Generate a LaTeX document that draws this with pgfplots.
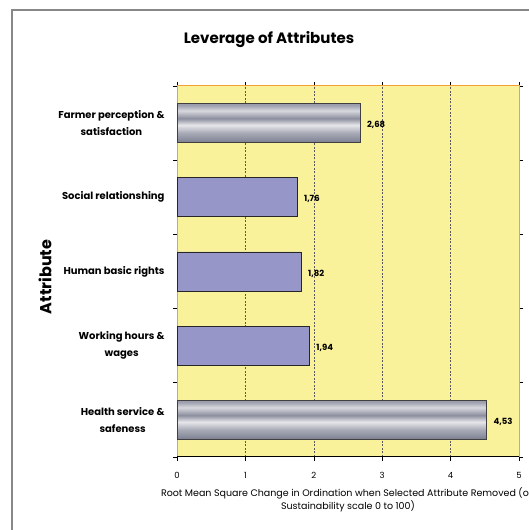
\documentclass[border=0pt]{standalone}
\usepackage{fontspec}
\setmainfont{Poppins}
\usepackage{pgfplots}
\pgfplotsset{compat=1.18}
\definecolor{bgyellow}{HTML}{FAF29B}
\definecolor{plotorange}{HTML}{F5A032}
\definecolor{barpurple}{HTML}{9696C8}
\definecolor{framegray}{HTML}{888888}
\definecolor{ma}{HTML}{7A7D8E}
\definecolor{mb}{HTML}{8A8D9D}
\definecolor{mc}{HTML}{A8AAB6}
\definecolor{md}{HTML}{E6E6EA}
\definecolor{me}{HTML}{8C8E9E}
\definecolor{mf}{HTML}{D8D8DE}
\definecolor{mg}{HTML}{A0A2B0}
\definecolor{mh}{HTML}{9A9CAB}
\pgfdeclareverticalshading{metal}{100bp}{color(0bp)=(ma); color(25bp)=(ma); color(29bp)=(mb); color(37.5bp)=(mc); color(47.5bp)=(md); color(56bp)=(me); color(66bp)=(mf); color(72.5bp)=(mg); color(75bp)=(mh); color(100bp)=(mh)}
\begin{document}
\begin{tikzpicture}[x=1bp,y=1bp]
\useasboundingbox (0,0) rectangle (529,530);
\draw[framegray, line width=1.2bp] (12,-10) -- (12,520) -- (545,520);
\begin{axis}[
  at={(177bp,73bp)}, anchor=south west,
  width=342bp, height=371bp, scale only axis,
  xmin=0, xmax=5, ymin=0.5, ymax=5.5,
  xtick={0,1,2,3,4,5},
  ytick={0.5,1.5,2.5,3.5,4.5,5.5}, yticklabels={},
  extra y ticks={1,2,3,4,5},
  extra y tick labels={{Health service \&\\safeness},{Working hours \&\\wages},{Human basic rights},{Social relationshing},{Farmer perception \&\\satisfaction}},
  extra y tick style={major tick length=0pt, tick style={draw=none}, yticklabel style={align=center, font=\bfseries\fontsize{10bp}{17bp}\selectfont, xshift=-9bp}},
  tick align=outside, major tick length=4bp,
  tick style={black, line width=0.6bp},
  xticklabel style={font=\fontsize{8.5bp}{10bp}\selectfont, yshift=-8bp},
  /pgf/number format/assume math mode=true,
  xmajorgrids,
  grid style={dash pattern=on 2bp off 1.5bp, black!65, line width=0.6bp},
  axis background/.style={fill=bgyellow},
  axis line style={plotorange, line width=1bp},
  point meta=x,
  nodes near coords,
  every node near coord/.append style={font=\bfseries\fontsize{8.5bp}{10bp}\selectfont, xshift=3bp, yshift=-2bp, text=black},
  nodes near coords style={/pgf/number format/.cd, fixed, fixed zerofill, precision=2, use comma},
]
\addplot[xbar, bar width=39bp, bar shift=0pt, draw=black!75, line width=0.8bp, shade, shading=metal] coordinates {(2.68,5)};
\addplot[xbar, bar width=39bp, bar shift=0pt, draw=black!75, line width=0.8bp, shade, shading=metal] coordinates {(4.53,1)};
\addplot[xbar, bar width=39bp, bar shift=0pt, draw=black!85, line width=0.8bp, fill=barpurple] coordinates {(1.76,4) (1.82,3) (1.94,2)};
\draw[black, line width=1bp] (rel axis cs:0,0) -- (rel axis cs:1,0);
\end{axis}
\node[font=\bfseries\fontsize{15bp}{17bp}\selectfont] at (269,490) {Leverage of Attributes};
\node[rotate=90, font=\bfseries\fontsize{16bp}{18bp}\selectfont] at (45,253) {Attribute};
\node[align=center, font=\fontsize{9.5bp}{13bp}\selectfont] at (348,30) {Root Mean Square Change in Ordination when Selected Attribute Removed (on\\Sustainability scale 0 to 100)};
\end{tikzpicture}
\end{document}
